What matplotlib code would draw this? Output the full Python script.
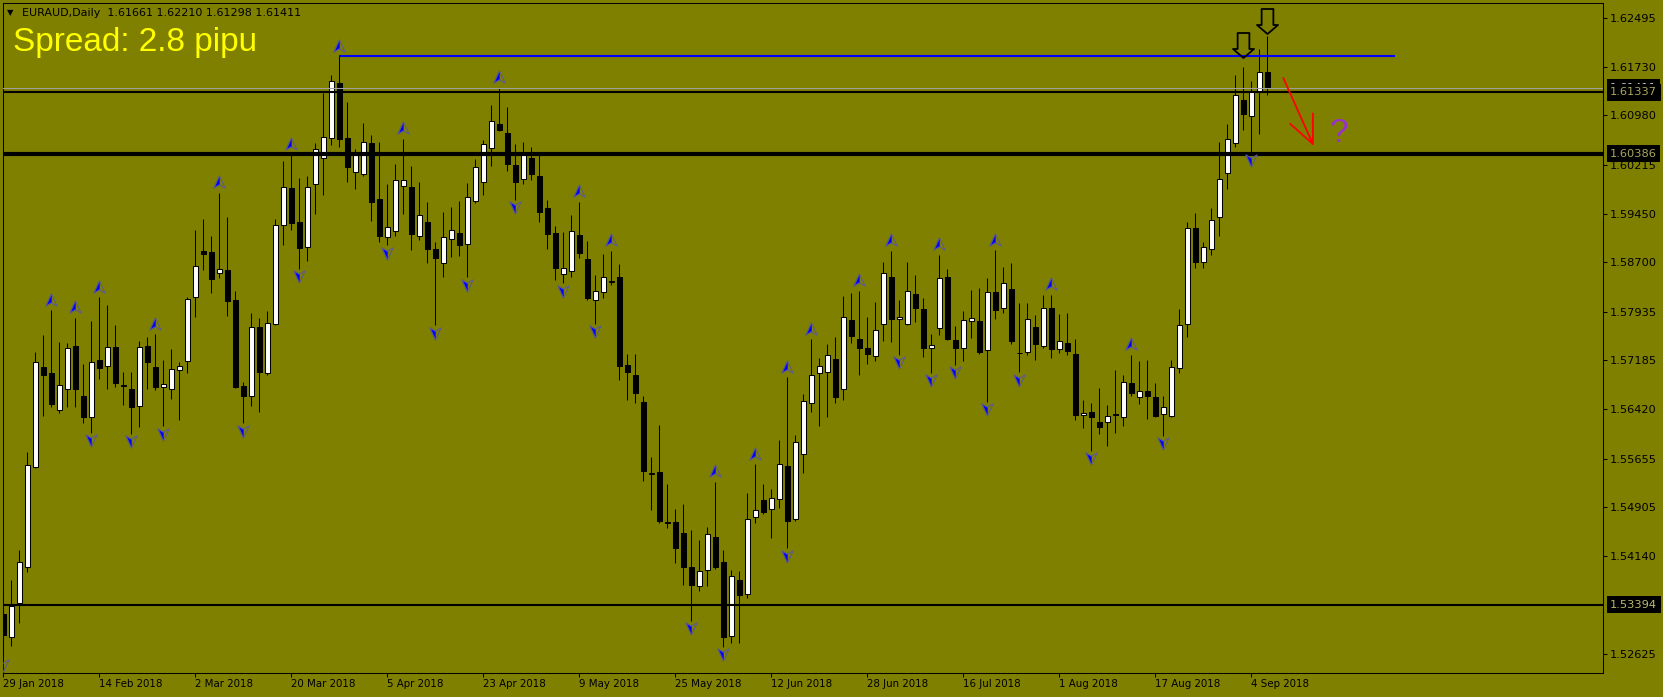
import numpy as np
import matplotlib
matplotlib.use("Agg")
import matplotlib.pyplot as plt
from matplotlib.path import Path
from matplotlib import transforms

# --- EURAUD daily candles (29 Jan 2018 .. 6 Sep 2018) ---
opens = [
    1.5325, 1.5289, 1.5342, 1.5398, 1.5553, 1.5708, 1.5699, 1.5641, 1.5674, 1.5741,
    1.5663, 1.5630, 1.5719, 1.5709, 1.5739, 1.5680, 1.5674, 1.5647, 1.5741, 1.5708,
    1.5677, 1.5674, 1.5703, 1.5717, 1.5816, 1.5888, 1.5886, 1.5854, 1.5858, 1.5812,
    1.5678, 1.5663, 1.5770, 1.5699, 1.5775, 1.5928, 1.5986, 1.5933, 1.5894, 1.5992,
    1.6032, 1.6063, 1.6148, 1.6063, 1.6010, 1.6007, 1.6055, 1.5968, 1.5910, 1.5919,
    1.5989, 1.5987, 1.5911, 1.5933, 1.5891, 1.5869, 1.5906, 1.5916, 1.5899, 1.5965,
    1.5995, 1.6048, 1.6085, 1.6071, 1.6021, 1.5999, 1.6032, 1.6004, 1.5955, 1.5916,
    1.5852, 1.5857, 1.5913, 1.5875, 1.5812, 1.5824, 1.5840, 1.5847, 1.5711, 1.5695,
    1.5654, 1.5542, 1.5545, 1.5468, 1.5468, 1.5450, 1.5398, 1.5368, 1.5393, 1.5444,
    1.5405, 1.5291, 1.5378, 1.5356, 1.5475, 1.5502, 1.5488, 1.5503, 1.5554, 1.5472,
    1.5573, 1.5652, 1.5699, 1.5700, 1.5720, 1.5674, 1.5781, 1.5751, 1.5737, 1.5725,
    1.5775, 1.5847, 1.5782, 1.5775, 1.5821, 1.5798, 1.5737, 1.5768, 1.5847, 1.5750,
    1.5737, 1.5779, 1.5779, 1.5734, 1.5824, 1.5799, 1.5829, 1.5730, 1.5731, 1.5770,
    1.5741, 1.5799, 1.5736, 1.5745, 1.5728, 1.5633, 1.5638, 1.5623, 1.5623, 1.5635,
    1.5630, 1.5683, 1.5661, 1.5671, 1.5661, 1.5635, 1.5632, 1.5706, 1.5775, 1.5924,
    1.5871, 1.5891, 1.5941, 1.6009, 1.6055, 1.6122, 1.6097, 1.6136, 1.61661,
]
highs = [
    1.5359, 1.5378, 1.5424, 1.5576, 1.5731, 1.5758, 1.5796, 1.5747, 1.5745, 1.5784,
    1.5713, 1.5779, 1.5816, 1.5804, 1.5773, 1.5700, 1.5700, 1.5748, 1.5754, 1.5759,
    1.5719, 1.5736, 1.5716, 1.5816, 1.5920, 1.5937, 1.5911, 1.5978, 1.5941, 1.5826,
    1.5685, 1.5792, 1.5784, 1.5795, 1.5937, 1.6027, 1.6037, 1.6001, 1.6004, 1.6055,
    1.6133, 1.6161, 1.6190, 1.6119, 1.6046, 1.6086, 1.6068, 1.6057, 1.5992, 1.6023,
    1.6062, 1.6020, 1.5995, 1.5964, 1.5902, 1.5948, 1.5956, 1.5965, 1.5993, 1.6030,
    1.6060, 1.6114, 1.6141, 1.6111, 1.6054, 1.6057, 1.6049, 1.6037, 1.5967, 1.5927,
    1.5917, 1.5944, 1.5964, 1.5903, 1.5851, 1.5883, 1.5888, 1.5868, 1.5728, 1.5728,
    1.5663, 1.5568, 1.5618, 1.5526, 1.5488, 1.5495, 1.5455, 1.5440, 1.5460, 1.5530,
    1.5424, 1.5393, 1.5391, 1.5512, 1.5557, 1.5526, 1.5519, 1.5595, 1.5692, 1.5602,
    1.5666, 1.5751, 1.5722, 1.5744, 1.5754, 1.5818, 1.5823, 1.5826, 1.5785, 1.5809,
    1.5871, 1.5888, 1.5812, 1.5871, 1.5851, 1.5815, 1.5759, 1.5882, 1.5860, 1.5772,
    1.5795, 1.5827, 1.5830, 1.5846, 1.5889, 1.5863, 1.5869, 1.5807, 1.5807, 1.5789,
    1.5820, 1.5820, 1.5790, 1.5792, 1.5751, 1.5657, 1.5652, 1.5675, 1.5649, 1.5703,
    1.5695, 1.5727, 1.5717, 1.5719, 1.5683, 1.5663, 1.5719, 1.5798, 1.5933, 1.5947,
    1.5902, 1.5955, 1.6057, 1.6085, 1.6161, 1.6173, 1.6151, 1.6201, 1.62210,
]
lows = [
    1.5258, 1.5275, 1.5311, 1.5390, 1.5551, 1.5632, 1.5646, 1.5637, 1.5646, 1.5646,
    1.5621, 1.5606, 1.5689, 1.5674, 1.5677, 1.5649, 1.5604, 1.5615, 1.5674, 1.5672,
    1.5616, 1.5658, 1.5626, 1.5699, 1.5785, 1.5858, 1.5823, 1.5846, 1.5787, 1.5675,
    1.5621, 1.5647, 1.5638, 1.5695, 1.5773, 1.5897, 1.5920, 1.5860, 1.5872, 1.5945,
    1.5975, 1.6052, 1.6049, 1.5995, 1.5984, 1.6004, 1.5934, 1.5902, 1.5897, 1.5911,
    1.5945, 1.5889, 1.5905, 1.5869, 1.5773, 1.5847, 1.5879, 1.5880, 1.5847, 1.5962,
    1.5975, 1.6020, 1.6074, 1.6012, 1.5967, 1.5992, 1.5998, 1.5933, 1.5891, 1.5843,
    1.5838, 1.5847, 1.5877, 1.5812, 1.5775, 1.5815, 1.5835, 1.5688, 1.5657, 1.5652,
    1.5531, 1.5486, 1.5466, 1.5458, 1.5404, 1.5370, 1.5314, 1.5360, 1.5368, 1.5395,
    1.5274, 1.5280, 1.5280, 1.5350, 1.5466, 1.5480, 1.5443, 1.5489, 1.5427, 1.5469,
    1.5543, 1.5638, 1.5616, 1.5630, 1.5652, 1.5657, 1.5745, 1.5695, 1.5713, 1.5717,
    1.5748, 1.5747, 1.5727, 1.5773, 1.5778, 1.5723, 1.5699, 1.5758, 1.5750, 1.5711,
    1.5717, 1.5753, 1.5728, 1.5654, 1.5782, 1.5792, 1.5744, 1.5700, 1.5727, 1.5719,
    1.5737, 1.5722, 1.5730, 1.5727, 1.5626, 1.5614, 1.5578, 1.5604, 1.5585, 1.5606,
    1.5616, 1.5663, 1.5651, 1.5627, 1.5630, 1.5601, 1.5631, 1.5699, 1.5754, 1.5861,
    1.5861, 1.5882, 1.5911, 1.5984, 1.6049, 1.6076, 1.6040, 1.6069, 1.61298,
]
closes = [
    1.5292, 1.5337, 1.5405, 1.5556, 1.5716, 1.5695, 1.5651, 1.5680, 1.5737, 1.5674,
    1.5630, 1.5716, 1.5706, 1.5739, 1.5683, 1.5678, 1.5646, 1.5739, 1.5716, 1.5677,
    1.5682, 1.5705, 1.5709, 1.5813, 1.5865, 1.5883, 1.5844, 1.5860, 1.5810, 1.5677,
    1.5663, 1.5770, 1.5700, 1.5776, 1.5928, 1.5987, 1.5931, 1.5893, 1.5987, 1.6046,
    1.6065, 1.6151, 1.6062, 1.6018, 1.6037, 1.6057, 1.5964, 1.5911, 1.5925, 1.5998,
    1.5998, 1.5914, 1.5944, 1.5891, 1.5877, 1.5910, 1.5920, 1.5897, 1.5972, 1.6018,
    1.6054, 1.6089, 1.6076, 1.6023, 1.5995, 1.6038, 1.6007, 1.5948, 1.5914, 1.5861,
    1.5861, 1.5919, 1.5885, 1.5815, 1.5826, 1.5847, 1.5841, 1.5709, 1.5700, 1.5668,
    1.5547, 1.5543, 1.5469, 1.5466, 1.5427, 1.5398, 1.5370, 1.5391, 1.5449, 1.5398,
    1.5289, 1.5384, 1.5354, 1.5472, 1.5486, 1.5483, 1.5505, 1.5557, 1.5469, 1.5592,
    1.5655, 1.5695, 1.5709, 1.5727, 1.5661, 1.5785, 1.5756, 1.5737, 1.5728, 1.5765,
    1.5854, 1.5782, 1.5785, 1.5826, 1.5799, 1.5737, 1.5742, 1.5846, 1.5751, 1.5737,
    1.5781, 1.5784, 1.5731, 1.5824, 1.5796, 1.5838, 1.5748, 1.5729, 1.5782, 1.5744,
    1.5799, 1.5736, 1.5748, 1.5733, 1.5633, 1.5637, 1.5630, 1.5615, 1.5632, 1.5634,
    1.5685, 1.5668, 1.5671, 1.5663, 1.5632, 1.5646, 1.5708, 1.5773, 1.5924, 1.5871,
    1.5894, 1.5936, 1.5999, 1.6062, 1.6130, 1.6100, 1.6134, 1.6165, 1.61411,
]

# bars carrying a fractal arrow
up_fractals = [6, 9, 12, 19, 27, 36, 42, 50, 62, 72, 76, 89, 94, 98, 101, 107,
               111, 117, 124, 131, 141]
down_fractals = [0, 11, 16, 20, 30, 37, 48, 54, 58, 64, 70, 74, 86, 90, 98, 112,
                 116, 119, 123, 127, 136, 145, 156]

date_ticks = [0, 12, 24, 36, 48, 60, 72, 84, 96, 108, 120, 132, 144, 156]
date_labels = ["29 Jan 2018", "14 Feb 2018", "2 Mar 2018", "20 Mar 2018",
               "5 Apr 2018", "23 Apr 2018", "9 May 2018", "25 May 2018",
               "12 Jun 2018", "28 Jun 2018", "16 Jul 2018", "1 Aug 2018",
               "17 Aug 2018", "4 Sep 2018"]
price_ticks = [1.62495, 1.61730, 1.60980, 1.60215, 1.59450, 1.58700, 1.57935,
               1.57185, 1.56420, 1.55655, 1.54905, 1.54140, 1.52625]

bid_price = 1.61411
level_prices = [1.61337, 1.60386, 1.53394]
level_widths = [1.5, 3.0, 1.5]
blue_level = 1.6190
blue_span = (42, 174)

signal_bars = [155, 158]
signal_levels = [1.62065, 1.62438]
red_arrow_from = (160.0, 1.61561)
red_arrow_to = (163.8, 1.60507)
question_at = (167.0, 1.60693)

BG = "#808000"
W, H = 1663, 697

# --- figure ---
fig = plt.figure(figsize=(W / 100, H / 100), dpi=100, facecolor=BG)
ax = fig.add_axes([2.5 / W, 24 / H, 1600.5 / W, 670 / H], facecolor=BG)

o = np.array(opens)
h = np.array(highs)
l = np.array(lows)
c = np.array(closes)
x = np.arange(len(o))
bull = c >= o

ax.vlines(x, l, h, color="black", lw=0.75, zorder=2)
ax.bar(x[bull], (c - o)[bull], bottom=o[bull], width=0.55, color="white",
       edgecolor="black", lw=0.75, zorder=3)
ax.bar(x[~bull], (o - c)[~bull], bottom=c[~bull], width=0.55, color="black",
       edgecolor="black", lw=0.75, zorder=3)

# --- fractal arrows ---
def arrow_head(flip):
    s = -1 if flip else 1
    full = Path([(0, s), (0.85, -0.85 * s), (0, -0.35 * s), (-0.85, -0.85 * s), (0, s)],
                [Path.MOVETO, Path.LINETO, Path.LINETO, Path.LINETO, Path.CLOSEPOLY])
    half = Path([(0, s), (0, -0.35 * s), (-0.85, -0.85 * s), (0, s)],
                [Path.MOVETO, Path.LINETO, Path.LINETO, Path.CLOSEPOLY])
    return full, half

up_tr = transforms.offset_copy(ax.transData, fig=fig, x=0, y=10.5, units="dots")
dn_tr = transforms.offset_copy(ax.transData, fig=fig, x=0, y=-7.5, units="dots")
for idx, vals, tr, flip in [(up_fractals, h, up_tr, False), (down_fractals, l, dn_tr, True)]:
    full, half = arrow_head(flip)
    ax.plot(idx, vals[idx], ls="none", marker=half, ms=9.5, mfc="#0000ff",
            mec="#0000ff", mew=0.3, transform=tr, zorder=5)
    ax.plot(idx, vals[idx], ls="none", marker=full, ms=9.5, mfc="none",
            mec="#5c5c8c", mew=0.8, transform=tr, zorder=5)

# --- horizontal levels ---
ax.axhline(bid_price, color="#a0a0a0", lw=0.75, zorder=4)
for p, w in zip(level_prices, level_widths):
    ax.axhline(p, color="black", lw=w, zorder=4)
ax.hlines(blue_level, blue_span[0], blue_span[1], color="#0000ff", lw=1.5, zorder=4)

# --- hollow signal arrows, red arrow, question mark ---
big_arrow = Path([(-0.47, 1), (0.47, 1), (0.47, -0.28), (0.84, -0.28), (0, -1),
                  (-0.84, -0.28), (-0.47, -0.28), (-0.47, 1)],
                 [Path.MOVETO] + [Path.LINETO] * 6 + [Path.CLOSEPOLY])
ax.plot(signal_bars, signal_levels, ls="none", marker=big_arrow, ms=18,
        mfc="none", mec="black", mew=1.3, zorder=6)
ax.annotate("", xy=red_arrow_to, xytext=red_arrow_from,
            arrowprops=dict(arrowstyle="->,head_length=1.0,head_width=0.45",
                            color="#ff0000", lw=1.3, mutation_scale=20,
                            shrinkA=0, shrinkB=0), zorder=6)
ax.text(question_at[0], question_at[1], "?", color="#9932cc", fontsize=24,
        family="Liberation Sans", ha="center", va="center", zorder=6)

# --- axes ---
ax.set_xlim(-0.1, 199.96)
ax.set_ylim(1.52333, 1.62724)
for sp in ax.spines.values():
    sp.set_color("black")
    sp.set_linewidth(0.75)

ax.yaxis.tick_right()
ax.set_yticks(price_ticks)
ax.set_yticklabels([f"{v:.5f}" for v in price_ticks])
ax.tick_params(axis="y", direction="out", length=3, width=0.75, pad=2,
               labelsize=8.2, colors="black")
ax.set_xticks(date_ticks)
ax.set_xticklabels(date_labels, ha="left")
ax.tick_params(axis="x", direction="out", length=3, width=0.75, pad=1.5,
               labelsize=7.4, colors="black")

# price boxes on the scale
lab_tr = transforms.blended_transform_factory(ax.transAxes, ax.transData)
for p, fg in [(bid_price, "#c8c8c8"), (level_prices[0], "#a8a860"),
              (level_prices[1], "#a8a860"), (level_prices[2], "#b8b870")]:
    ax.text(1.0045, p, f"{p:.5f}", transform=lab_tr, fontsize=8.2, color=fg,
            ha="left", va="center", clip_on=False, zorder=10,
            bbox=dict(boxstyle="square,pad=0.3", fc="black", ec="none"))

# --- header texts ---
fig.text(7 / W, 1 - 13 / H, "\u25bc", fontsize=6, color="black", va="center")
fig.text(22 / W, 1 - 13 / H, "EURAUD,Daily  1.61661 1.62210 1.61298 1.61411",
         fontsize=8, color="black", va="center")
fig.text(13 / W, 1 - 43 / H, "Spread: 2.8 pipu", fontsize=24, color="#ffff00",
         family="Liberation Sans", va="center")

fig.savefig("out.png", dpi=100, facecolor=BG)
